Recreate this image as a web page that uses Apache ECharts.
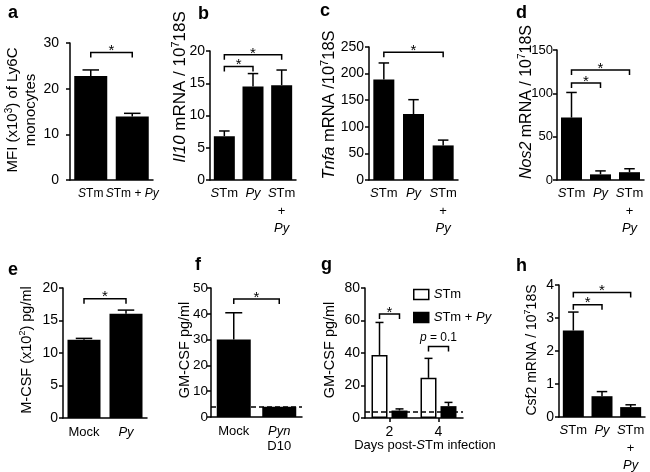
<!DOCTYPE html>
<html><head><meta charset="utf-8">
<script src="https://cdn.jsdelivr.net/npm/echarts@6/dist/echarts.min.js"></script>
<style>html,body{margin:0;padding:0;background:#fff}#c{width:650px;height:472px}</style>
</head><body><div id="c"></div>
<script>
const FONT = '"Liberation Sans", Arial, Helvetica, sans-serif';

// ---- categories ----
const catsA = ['{i|S}Tm', '{i|S}Tm + {i|Py}'];
const cats3 = ['{i|S}Tm', '{i|Py}', '{i|S}Tm\n+\n{i|Py}'];
const catsE = ['Mock', '{i|Py}'];
const catsF = ['Mock', '{i|Pyn}\nD10'];
const catsG = ['2', '4'];

// ---- values (mean) and SEM ----
const valA = [22.8, 13.9];   const semA = [1.3, 0.7];
const valB = [6.8, 14.5, 14.7]; const semB = [0.8, 2.0, 2.35];
const valC = [189, 124, 65];  const semC = [31, 27, 10];
const valD = [72, 6.5, 9];    const semD = [29, 4, 4];
const valE = [12.05, 16.05];  const semE = [0.2, 0.55];
const valF = [30, 4];         const semF = [10.4, 0];
const valG_STm = [38.8, 24.7];  const semG_STm = [20, 12];
const valG_Py  = [4.6, 7.3];    const semG_Py  = [1.0, 2.3];
const valH = [2.62, 0.63, 0.3]; const semH = [0.56, 0.14, 0.07];
const limitF = 4;   // detection limit (dashed)
const limitG = 4;

// ---- significance brackets: [fromCat, toCat, yValue, label] ----
const brA = [[0, 1, 27.9, '*']];
const brB = [[0, 1, 17.6, '*'], [0, 2, 19.4, '*']];
const brC = [[0, 2, 240, '*']];
const brD = [[0, 1, 112, '*'], [0, 2, 127, '*']];
const brE = [[0, 1, 18.35, '*']];
const brF = [[0, 1, 45.7, '*']];
const brG = [[0, 0, 64, '*'], [1, 1, 44, '{i|p} = 0.1']];
const brH = [[0, 1, 3.4, '*'], [0, 2, 3.77, '*']];

// ---- axis ranges ----
const maxs = [30, 20, 250, 150, 20, 50, 80, 4];
const steps = [10, 5, 50, 50, 5, 10, 20, 1];

const panels = [
  {grid:{left:70, top:43, width:83, height:137}, cats:catsA, vals:valA, sems:semA, bw:33, br:brA, lfs:12, ym:11},
  {grid:{left:210, top:51, width:86, height:129}, cats:cats3, vals:valB, sems:semB, bw:21, br:brB},
  {grid:{left:369, top:47, width:89, height:133}, cats:cats3, vals:valC, sems:semC, bw:21, br:brC},
  {grid:{left:557, top:50, width:87, height:130}, cats:cats3, vals:valD, sems:semD, bw:21, br:brD, yfs:13, ym:4},
  {grid:{left:63, top:288, width:84, height:130}, cats:catsE, vals:valE, sems:semE, bw:33, br:brE, bottomRow:true},
  {grid:{left:211, top:288, width:91, height:129}, cats:catsF, vals:valF, sems:semF, bw:34, br:brF, bottomRow:true, limit:limitF, yfs:13.5, ym:3},
  {grid:{left:365, top:288, width:98, height:130}, cats:catsG, grouped:true, bw:16, br:brG, bottomRow:true, limit:limitG},
  {grid:{left:559, top:285, width:86, height:132}, cats:cats3, vals:valH, sems:semH, bw:21, br:brH}
];

function rich(fs, lh) {
  return {
    i: {fontStyle:'italic', fontSize:fs, fontFamily:FONT, color:'#000', lineHeight:lh}
  };
}

function errRender(off, capW) {
  return function (params, api) {
    const x = api.value(0), m = api.value(1), s = api.value(2);
    if (!s) return null;
    const p0 = api.coord([x, m]);
    const p1 = api.coord([x, m + s]);
    const cx = p0[0] + off;
    const st = {stroke:'#000', lineWidth:1.5};
    return {type:'group', children:[
      {type:'line', shape:{x1:cx, y1:p0[1], x2:cx, y2:p1[1]}, style:st},
      {type:'line', shape:{x1:cx - capW/2, y1:p1[1], x2:cx + capW/2, y2:p1[1]}, style:st}
    ]};
  };
}

function brRender(list, off1, off2) {
  return function (params, api) {
    const b = list[params.dataIndex];
    const a = api.coord([b[0], b[2]]);
    const c = api.coord([b[1], b[2]]);
    const x1 = a[0] + off1, x2 = c[0] + off2, y = a[1];
    const st = {stroke:'#000', lineWidth:1.5, fill:null};
    const isStar = b[3] === '*';
    return {type:'group', children:[
      {type:'polyline', shape:{points:[[x1, y + 5], [x1, y], [x2, y], [x2, y + 5]]}, style:st},
      {type:'text', x:(x1 + x2) / 2, y: isStar ? y - 1.5 : y - 8.5,
       style:{text:b[3], fontSize: isStar ? 15 : 12, fontFamily:FONT, fill:'#000',
              align:'center', verticalAlign:'middle', textAlign:'center', textVerticalAlign:'middle',
              rich:{i:{fontStyle:'italic', fontSize:12, fontFamily:FONT, fill:'#000'}}}}
    ]};
  };
}

const grid = [], xAxis = [], yAxis = [], series = [];
panels.forEach((p, i) => {
  const lfs = p.lfs || 13;
  const lh = p.bottomRow ? 15 : 17.5;
  grid.push(Object.assign({containLabel:false, outerBoundsMode:'none'}, p.grid));
  xAxis.push({
    gridIndex:i, type:'category', data:p.cats,
    axisLine:{show:true, lineStyle:{color:'#000', width:1.5}},
    axisTick:{show: !!p.grouped, alignWithLabel:true, length:4, lineStyle:{color:'#000', width:1.5}},
    axisLabel:{interval:0, color:'#000', fontFamily:FONT, fontSize: p.grouped ? 14 : lfs,
               margin: p.bottomRow ? 7 : 5, lineHeight: lh,
               rich: rich(lfs, lh)},
    splitLine:{show:false}
  });
  yAxis.push({
    gridIndex:i, type:'value', min:0, max:maxs[i], interval:steps[i],
    axisLine:{show:true, lineStyle:{color:'#000', width:1.5}},
    axisTick:{show:true, length:4, lineStyle:{color:'#000', width:1.5}},
    axisLabel:{color:'#000', fontFamily:FONT, fontSize: p.yfs || 14, margin: p.ym || 5},
    splitLine:{show:false}
  });
  if (!p.grouped) {
    series.push({type:'bar', xAxisIndex:i, yAxisIndex:i, data:p.vals, barWidth:p.bw,
      itemStyle:{color:'#000'}, silent:true,
      markLine: p.limit ? {silent:true, symbol:'none', label:{show:false},
        lineStyle:{color:'#000', type:[5, 3], width:1.5}, data:[{yAxis:p.limit}]} : undefined});
    series.push({type:'custom', xAxisIndex:i, yAxisIndex:i, silent:true, z:3,
      data:p.vals.map((v, k) => [k, v, p.sems[k]]), encode:{x:0, y:1},
      renderItem: errRender(0, p.bw * 0.5)});
    series.push({type:'custom', xAxisIndex:i, yAxisIndex:i, silent:true, z:3,
      data:p.br.map(b => [b[0], b[1], b[2]]), encode:{x:0, y:2},
      renderItem: brRender(p.br, 0, 0)});
  } else {
    series.push({name:'STm', type:'bar', xAxisIndex:i, yAxisIndex:i, data:valG_STm, barWidth:p.bw, barGap:'25%',
      itemStyle:{color:'#fff', borderColor:'#000', borderWidth:1.5}, silent:true});
    series.push({name:'STm + Py', type:'bar', xAxisIndex:i, yAxisIndex:i, data:valG_Py, barWidth:p.bw, barGap:'25%',
      itemStyle:{color:'#000'}, silent:true,
      markLine:{silent:true, symbol:'none', label:{show:false},
        lineStyle:{color:'#000', type:[5, 3], width:1.5}, data:[{yAxis:p.limit}]}});
    series.push({type:'custom', xAxisIndex:i, yAxisIndex:i, silent:true, z:3,
      data:valG_STm.map((v, k) => [k, v, semG_STm[k]]), encode:{x:0, y:1},
      renderItem: errRender(-10, 8)});
    series.push({type:'custom', xAxisIndex:i, yAxisIndex:i, silent:true, z:3,
      data:valG_Py.map((v, k) => [k, v, semG_Py[k]]), encode:{x:0, y:1},
      renderItem: errRender(10, 8)});
    series.push({type:'custom', xAxisIndex:i, yAxisIndex:i, silent:true, z:3,
      data:p.br.map(b => [b[0], b[1], b[2]]), encode:{x:0, y:2},
      renderItem: brRender(p.br, -10, 10)});
  }
});

// ---- text: panel letters and axis titles ----
function vtext(x, y, text, fs, lh) {
  const L = lh || fs + 3;
  return {type:'text', x:x, y:y, rotation:Math.PI / 2,
    style:{text:text, fontSize:fs, fontFamily:FONT, fill:'#000', lineHeight:L,
           align:'center', verticalAlign:'middle', textAlign:'center', textVerticalAlign:'middle',
           rich:{
             t:{fontSize:fs, fontFamily:FONT, fill:'#000', lineHeight:L},
             i:{fontStyle:'italic', fontSize:fs, fontFamily:FONT, fill:'#000', lineHeight:L},
             s:{fontSize:Math.round(fs * 0.65), fontFamily:FONT, fill:'#000', verticalAlign:'top', lineHeight:L}
           }}};
}
function letter(x, y, t) {
  return {type:'text', x:x, y:y, style:{text:t, fontSize:18, fontWeight:'bold', fontFamily:FONT, fill:'#000',
    align:'left', verticalAlign:'middle', textAlign:'left', textVerticalAlign:'middle'}};
}
const graphic = [
  letter(8, 13, 'a'), letter(198, 14, 'b'), letter(320, 11, 'c'), letter(516, 13, 'd'),
  letter(8, 270, 'e'), letter(195, 265, 'f'), letter(321, 265, 'g'), letter(516, 266, 'h'),
  vtext(22, 110, '{t|MFI (x10}{s|3}{t|) of Ly6C}\n{t|monocytes}', 15, 18),
  vtext(180, 87, '{i|Il10}{t| mRNA / 10}{s|7}{t|18S}', 17),
  vtext(329, 105, '{i|Tnfa}{t| mRNA /10}{s|7}{t|18S}', 16.5),
  vtext(527, 102, '{i|Nos2}{t| mRNA / 10}{s|7}{t|18S}', 16),
  vtext(27, 350, '{t|M-CSF (x10}{s|2}{t|) pg/ml}', 14.5),
  vtext(185, 350, '{t|GM-CSF pg/ml}', 14.5),
  vtext(330, 350, '{t|GM-CSF pg/ml}', 14.5),
  vtext(532, 350, '{t|Csf2 mRNA / 10}{s|7}{t|18S}', 14),
  {type:'text', x:425, y:445, style:{text:'Days post-{i|S}Tm infection', fontSize:13, fontFamily:FONT, fill:'#000',
    align:'center', verticalAlign:'middle', textAlign:'center', textVerticalAlign:'middle',
    rich:{i:{fontStyle:'italic', fontSize:13, fontFamily:FONT, fill:'#000'}}}}
];

const chart = echarts.init(document.getElementById('c'), null, {renderer:'canvas'});
chart.setOption({
  animation:false,
  backgroundColor:'#fff',
  grid, xAxis, yAxis, series, graphic,
  legend:{
    left:408, top:283, orient:'vertical', itemWidth:15, itemHeight:10, itemGap:10, icon:'rect',
    selectedMode:false,
    data:[
      {name:'STm', itemStyle:{color:'#fff', borderColor:'#000', borderWidth:1.5}},
      {name:'STm + Py', itemStyle:{color:'#000', borderColor:'#000', borderWidth:1.5}}
    ],
    formatter: n => n === 'STm' ? '{i|S}Tm' : '{i|S}Tm + {i|Py}',
    textStyle:{fontSize:13, fontFamily:FONT, color:'#000',
      rich:{i:{fontStyle:'italic', fontSize:13, fontFamily:FONT, color:'#000'}}}
  }
});
</script>
</body></html>
